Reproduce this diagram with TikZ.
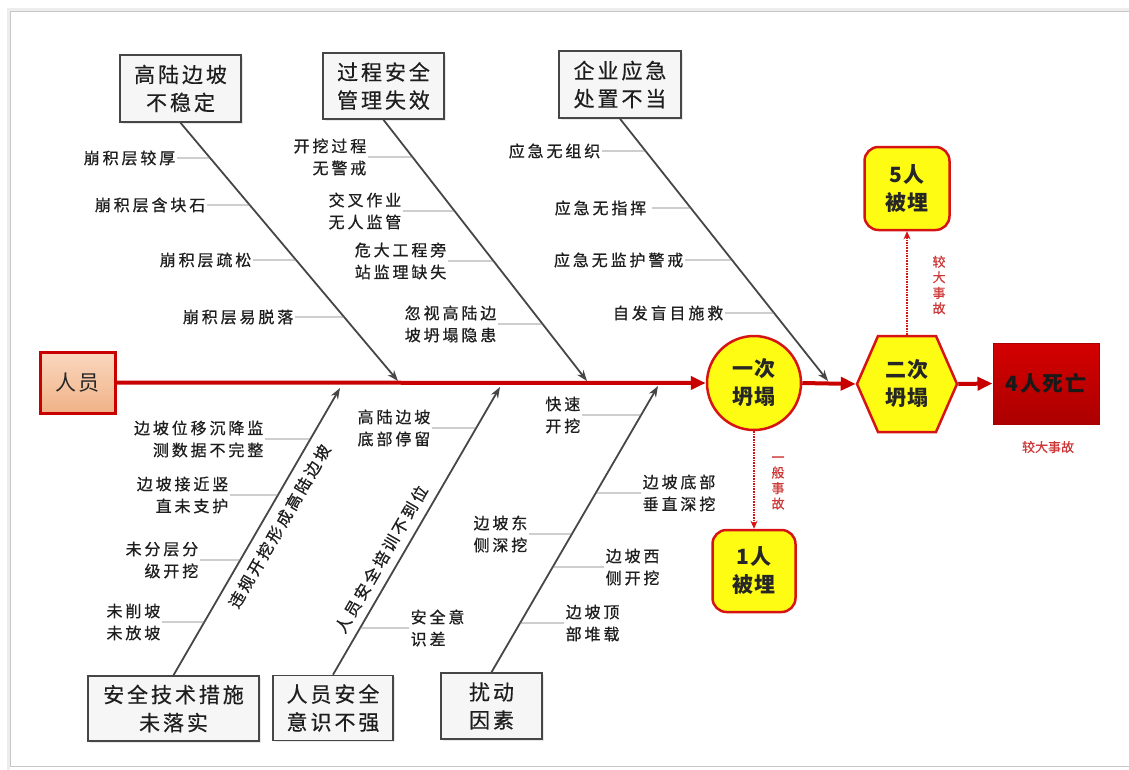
\documentclass[tikz,border=0pt]{standalone}
\usepackage{fontspec}
\setmainfont{Noto Sans CJK SC}
\newfontfamily\lblfont[LetterSpace=18,FakeBold=0.7]{Noto Sans CJK SC}
\newfontfamily\boxfont[LetterSpace=14,FakeBold=0.5]{Noto Sans CJK SC}
\newfontfamily\keyfont[LetterSpace=8]{Noto Sans CJK SC}
\newfontfamily\vfont[FakeBold=0.5]{Noto Sans CJK SC}
\usetikzlibrary{arrows.meta,calc,shadows}
\definecolor{spinered}{RGB}{200,0,0}
\definecolor{nodered}{RGB}{215,20,20}
\definecolor{nodeyellow}{RGB}{255,252,20}
\definecolor{bonegray}{RGB}{70,70,70}
\definecolor{subgray}{RGB}{115,115,115}
\definecolor{txtgray}{RGB}{30,30,30}
\definecolor{accred}{RGB}{205,55,55}
\definecolor{peachtop}{RGB}{250,215,190}
\definecolor{peachbot}{RGB}{240,178,135}
\definecolor{deadtop}{RGB}{212,0,0}
\definecolor{deadbot}{RGB}{172,0,0}
\begin{document}
\begin{tikzpicture}[x=1pt,y=-1pt,
  lbl/.style={font=\lblfont\fontsize{16}{22}\selectfont, text=txtgray, inner sep=1.5pt},
  cat/.style={draw=bonegray, line width=1.6pt, fill=gray!7, font=\boxfont\fontsize{21}{28}\selectfont,
    text=txtgray, align=center, inner sep=0pt,
    drop shadow={opacity=0.18, shadow xshift=1.5pt, shadow yshift=-1.5pt}},
  bone/.style={draw=bonegray, line width=1.8pt, -{Stealth[length=11pt,width=8pt]}},
  sub/.style={draw=subgray, line width=0.9pt},
  spine/.style={draw=spinered, line width=4pt, -{Triangle[length=15pt,width=13pt]}},
  ynode/.style={draw=nodered, line width=2.5pt, fill=nodeyellow,
    font=\keyfont\bfseries\fontsize{21}{28}\selectfont, text=black!85, align=center, inner sep=0pt},
  dotarrow/.style={draw=nodered, line width=1.6pt, densely dotted, -{Stealth[length=8pt,width=7pt]}},
  vlab/.style={text=accred, font=\vfont\fontsize{13}{15.5}\selectfont, align=center, inner sep=0pt},
]
\useasboundingbox (0,0) rectangle (1129,769);
% frame
\draw[black!7, line width=3pt] (1135,9) -- (8,9) -- (8,772);
\draw[black!22, line width=1.3pt] (1135,11.5) -- (10.5,11.5) -- (10.5,766.5) -- (1135,766.5);

% head nodes
\node[draw=spinered, line width=3pt, top color=peachtop, bottom color=peachbot,
  minimum width=75pt, minimum height=61pt, inner sep=0pt,
  font=\keyfont\fontsize{21}{28}\selectfont, text=black!85] (ry) at (77.5,382.5) {人员};
\node[ynode, circle, minimum size=94pt] (c1) at (754,383) {一次\\坍塌};
\coordinate (c2c) at (907,384);
\filldraw[draw=nodered, line width=2.5pt, fill=nodeyellow]
  ($(c2c)+(-50,0)$) -- ($(c2c)+(-29,-48)$) -- ($(c2c)+(29,-48)$) -- ($(c2c)+(50,0)$)
  -- ($(c2c)+(29,48)$) -- ($(c2c)+(-29,48)$) -- cycle;
\node[ynode, draw=none, fill=none, minimum width=100pt, minimum height=96pt] (c2) at (c2c) {二次\\坍塌};
\node[draw=deadbot, line width=1pt, top color=deadtop, bottom color=deadbot,
  minimum width=106pt, minimum height=81pt, inner sep=0pt,
  font=\keyfont\bfseries\fontsize{21}{28}\selectfont, text=black!90] (d4) at (1046,383.5) {4人死亡};
\node[text=accred, font=\vfont\fontsize{13}{15}\selectfont, inner sep=0pt] (d4l) at (1048,447) {较大事故};
\node[ynode, rounded corners=14pt, minimum width=85pt, minimum height=83pt] (b5) at (907,188.5) {5人\\被埋};
\node[ynode, rounded corners=14pt, minimum width=83pt, minimum height=82pt] (b1) at (754,571) {1人\\被埋};
\node[vlab] (v1) at (939,285) {较\\大\\事\\故};
\node[vlab] (v2) at (778,483) {一\\般\\事\\故};

% spine and event arrows
\draw[spine] (ry.east) -- (c1.west);
\draw[spine] (c1.east) -- (c2.west);
\draw[spine] (c2.east) -- (d4.west);
\draw[dotarrow] (c2.north) -- (b5.south);
\draw[dotarrow] (c1.south) -- (b1.north);

% category boxes
\node[cat, minimum width=121pt, minimum height=67pt] (k1) at (180.5,88.5) {高陆边坡\\不稳定};
\node[cat, minimum width=121pt, minimum height=66pt] (k2) at (383.5,86) {过程安全\\管理失效};
\node[cat, minimum width=122pt, minimum height=67pt] (k3) at (620,84.5) {企业应急\\处置不当};
\node[cat, minimum width=171pt, minimum height=65pt] (k4) at (173.5,708.5) {安全技术措施\\未落实};
\node[cat, minimum width=120pt, minimum height=65pt] (k5) at (333,708) {人员安全\\意识不强};
\node[cat, minimum width=101pt, minimum height=66pt] (k6) at (491.5,706) {扰动\\因素};

% bone ends on the spine
\coordinate (e1) at (398,381);
\coordinate (e2) at (587,381);
\coordinate (e3) at (828,381);
\coordinate (e4) at (340,388);
\coordinate (e5) at (500,387);
\coordinate (e6) at (658,386);

\draw[bone] (k1.south) -- (e1);
\draw[bone] (k2.south) -- (e2);
\draw[bone] (k3.south) -- (e3);
\draw[bone] (k4.north) -- node[lbl, sloped, pos=0.548, below=7pt] (r4) {违规开挖形成高陆边坡} (e4);
\draw[bone] (k5.north) -- node[lbl, sloped, pos=0.373, above=6.5pt] (r5) {人员安全培训不到位} (e5);
\draw[bone] (k6.north) -- (e6);

% bone 1
\coordinate (s1a) at (intersection of k1.south--e1 and 0,158--1129,158);
\coordinate (s1b) at (intersection of k1.south--e1 and 0,205--1129,205);
\coordinate (s1c) at (intersection of k1.south--e1 and 0,260--1129,260);
\coordinate (s1d) at (intersection of k1.south--e1 and 0,317--1129,317);
\node[lbl, anchor=east] (l1a) at (177,158) {崩积层较厚};
\node[lbl, anchor=east] (l1b) at (207,205) {崩积层含块石};
\node[lbl, anchor=east] (l1c) at (253,260) {崩积层疏松};
\node[lbl, anchor=east] (l1d) at (295,317) {崩积层易脱落};
\draw[sub] (l1a.east) -- (s1a);
\draw[sub] (l1b.east) -- (s1b);
\draw[sub] (l1c.east) -- (s1c);
\draw[sub] (l1d.east) -- (s1d);

% bone 2
\coordinate (s2a) at (intersection of k2.south--e2 and 0,157--1129,157);
\coordinate (s2b) at (intersection of k2.south--e2 and 0,211--1129,211);
\coordinate (s2c) at (intersection of k2.south--e2 and 0,261--1129,261);
\coordinate (s2d) at (intersection of k2.south--e2 and 0,324--1129,324);
\node[lbl, anchor=east, align=right] (l2a) at (368,157) {开挖过程\\无警戒};
\node[lbl, anchor=east, align=right] (l2b) at (403,211) {交叉作业\\无人监管};
\node[lbl, anchor=east, align=right] (l2c) at (448,261) {危大工程旁\\站监理缺失};
\node[lbl, anchor=east, align=right] (l2d) at (498,324) {忽视高陆边\\坡坍塌隐患};
\draw[sub] (l2a.east) -- (s2a);
\draw[sub] (l2b.east) -- (s2b);
\draw[sub] (l2c.east) -- (s2c);
\draw[sub] (l2d.east) -- (s2d);

% bone 3
\coordinate (s3a) at (intersection of k3.south--e3 and 0,151--1129,151);
\coordinate (s3b) at (intersection of k3.south--e3 and 0,208--1129,208);
\coordinate (s3c) at (intersection of k3.south--e3 and 0,260--1129,260);
\coordinate (s3d) at (intersection of k3.south--e3 and 0,313--1129,313);
\node[lbl, anchor=east] (l3a) at (602,151) {应急无组织};
\node[lbl, anchor=east] (l3b) at (648,208) {应急无指挥};
\node[lbl, anchor=east] (l3c) at (685,260) {应急无监护警戒};
\node[lbl, anchor=east] (l3d) at (725,313) {自发盲目施救};
\draw[sub] (l3a.east) -- (s3a);
\draw[sub] ([xshift=4pt]l3b.east) -- (s3b);
\draw[sub] (l3c.east) -- (s3c);
\draw[sub] (l3d.east) -- (s3d);

% bone 4
\coordinate (s4a) at (intersection of k4.north--e4 and 0,439--1129,439);
\coordinate (s4b) at (intersection of k4.north--e4 and 0,495--1129,495);
\coordinate (s4c) at (intersection of k4.north--e4 and 0,560--1129,560);
\coordinate (s4d) at (intersection of k4.north--e4 and 0,622--1129,622);
\node[lbl, anchor=east, align=right] (l4a) at (265,439) {边坡位移沉降监\\测数据不完整};
\node[lbl, anchor=east, align=right] (l4b) at (230,495) {边坡接近竖\\直未支护};
\node[lbl, anchor=east, align=right] (l4c) at (200,560) {未分层分\\级开挖};
\node[lbl, anchor=east, align=right] (l4d) at (162,622) {未削坡\\未放坡};
\draw[sub] (l4a.east) -- (s4a);
\draw[sub] (l4b.east) -- (s4b);
\draw[sub] (l4c.east) -- (s4c);
\draw[sub] (l4d.east) -- (s4d);

% bone 5
\coordinate (s5a) at (intersection of k5.north--e5 and 0,428--1129,428);
\coordinate (s5b) at (intersection of k5.north--e5 and 0,628--1129,628);
\node[lbl, anchor=east, align=right] (l5a) at (432,428) {高陆边坡\\底部停留};
\node[lbl, anchor=west, align=left] (l5b) at (409,628) {安全意\\识差};
\draw[sub] (l5a.east) -- (s5a);
\draw[sub] (s5b) -- (l5b.west);

% bone 6
\coordinate (s6a) at (intersection of k6.north--e6 and 0,415--1129,415);
\coordinate (s6b) at (intersection of k6.north--e6 and 0,493--1129,493);
\coordinate (s6c) at (intersection of k6.north--e6 and 0,534--1129,534);
\coordinate (s6d) at (intersection of k6.north--e6 and 0,567--1129,567);
\coordinate (s6e) at (intersection of k6.north--e6 and 0,623--1129,623);
\node[lbl, anchor=east, align=right] (l6a) at (582,415) {快速\\开挖};
\node[lbl, anchor=west, align=left] (l6b) at (641,493) {边坡底部\\垂直深挖};
\node[lbl, anchor=east, align=right] (l6c) at (529,534) {边坡东\\侧深挖};
\node[lbl, anchor=west, align=left] (l6d) at (604,567) {边坡西\\侧开挖};
\node[lbl, anchor=west, align=left] (l6e) at (564,623) {边坡顶\\部堆载};
\draw[sub] (l6a.east) -- (s6a);
\draw[sub] (s6b) -- (l6b.west);
\draw[sub] (l6c.east) -- (s6c);
\draw[sub] (s6d) -- (l6d.west);
\draw[sub] (s6e) -- (l6e.west);
\end{tikzpicture}
\end{document}
